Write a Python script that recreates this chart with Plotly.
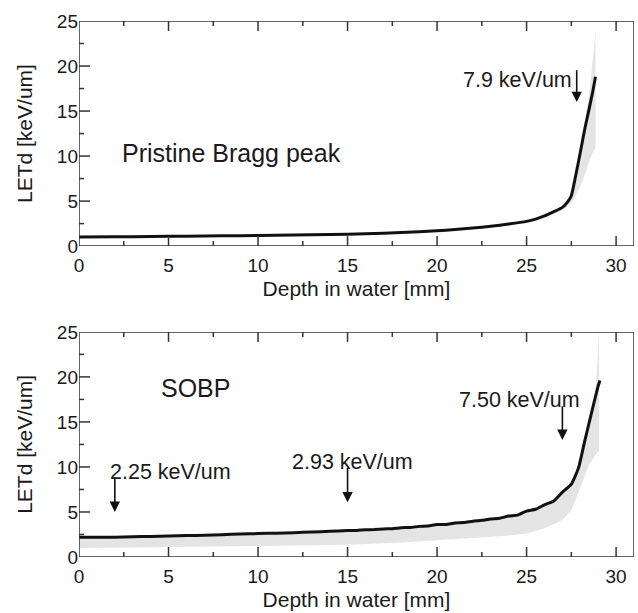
import plotly.graph_objects as go

# ---------------- data ----------------
# Top panel: pristine Bragg peak
depth_top = [0, 2, 4, 6, 8, 10, 12, 14, 16, 18, 20, 21, 22, 23, 24, 25, 25.5, 26,
             26.5, 27, 27.25, 27.5, 27.75, 28, 28.25, 28.5, 28.7, 28.85]
letd_top = [1.0, 1.03, 1.07, 1.1, 1.14, 1.18, 1.23, 1.28, 1.36, 1.5, 1.7, 1.85, 2.0, 2.2,
            2.45, 2.75, 3.0, 3.35, 3.8, 4.3, 4.8, 5.6, 7.9, 10.4, 13.0, 15.3, 17.2, 18.8]
band_top_x = [26, 26.5, 27, 27.5, 28, 28.3, 28.5, 28.6, 28.75, 28.85]
band_top_hi = [3.35, 3.8, 4.3, 5.6, 10.4, 14.5, 17.0, 18.8, 21.4, 23.8]
band_top_lo = [3.2, 3.6, 3.95, 4.8, 6.6, 8.2, 9.5, 10.0, 10.6, 11.0]

# Bottom panel: SOBP
depth_bot = [0, 1, 2, 3, 4, 5, 6, 7, 8, 9, 10, 11, 12, 13, 14, 15, 15.5, 16, 16.5, 17,
             17.5, 18, 18.5, 19, 19.5, 20, 20.5, 21, 21.5, 22, 22.5, 23, 23.5, 24, 24.5,
             25, 25.5, 26, 26.5, 27, 27.5, 27.9, 28.25, 28.65, 29.0, 29.1]
letd_bot = [2.2, 2.18, 2.2, 2.25, 2.28, 2.32, 2.38, 2.42, 2.48, 2.55, 2.6, 2.65, 2.7, 2.78,
            2.85, 2.93, 2.95, 3.02, 3.05, 3.12, 3.15, 3.25, 3.28, 3.4, 3.45, 3.6, 3.62,
            3.78, 3.82, 3.98, 4.08, 4.22, 4.3, 4.55, 4.65, 5.1, 5.3, 5.8, 6.2, 7.2, 8.1,
            9.9, 12.9, 16.2, 19.0, 19.6]
band_bot_x = [0, 2, 5, 8, 10, 12, 15, 18, 20, 22, 24, 25, 26, 27, 27.5, 28, 28.5, 28.75,
              28.9, 29.0, 29.05]
band_bot_hi = [2.1, 2.1, 2.2, 2.4, 2.5, 2.6, 2.85, 3.15, 3.5, 3.85, 4.5, 5.0, 5.7, 7.0,
               8.0, 11.0, 14.5, 17.0, 19.5, 23.0, 25.5]
band_bot_lo = [1.0, 1.02, 1.1, 1.15, 1.2, 1.27, 1.37, 1.6, 1.85, 2.1, 2.4, 2.6, 3.2, 4.1,
               5.2, 7.7, 10.3, 11.0, 11.5, 11.7, 11.8]

x_ticks = [0, 5, 10, 15, 20, 25, 30]
x_minor = [2.5, 7.5, 12.5, 17.5, 22.5, 27.5]
y_ticks = [0, 5, 10, 15, 20, 25]
y_minor = [2.5, 7.5, 12.5, 17.5, 22.5]
x_title = "Depth in water [mm]"
y_title = "LETd [keV/um]"

# labels: (text, x, y, panel)
panel_labels = [("Pristine Bragg peak", 8.5, 10.3, 1), ("SOBP", 6.5, 18.8, 2)]
value_labels = [("7.9 keV/um", 24.5, 18.5, 1), ("2.25 keV/um", 5.1, 9.4, 2),
                ("2.93 keV/um", 15.3, 10.6, 2), ("7.50 keV/um", 24.6, 17.4, 2)]
# arrows: (x, y_start, y_tip, panel)
arrows = [(27.8, 19.7, 16.0, 1), (2.0, 8.95, 5.0, 2), (15.0, 10.07, 6.07, 2),
          (27.0, 16.9, 13.0, 2)]

# ---------------- layout constants ----------------
FONT = "Liberation Sans, Arial, Helvetica, sans-serif"
TXT = "#1a1a1a"
AX = "#333333"
BAND = "#e4e4e4"
X_RANGE = [0, 31]
Y_RANGE = [0, 25]
W, H = 638, 613
M = dict(l=79, r=4, t=21, b=56)
DOM_TOP = [0.580, 1.0]
DOM_BOT = [0.0, 0.42]
MAJOR_LEN = 10   # px
MINOR_LEN = 5    # px

plot_w = W - M["l"] - M["r"]
plot_h = H - M["t"] - M["b"]
px_per_x = plot_w / (X_RANGE[1] - X_RANGE[0])

fig = go.Figure()

panels = [
    ("x", "y", DOM_TOP, band_top_x, band_top_hi, band_top_lo, depth_top, letd_top),
    ("x2", "y2", DOM_BOT, band_bot_x, band_bot_hi, band_bot_lo, depth_bot, letd_bot),
]
for xa, ya, dom, bx, bhi, blo, dx, dy in panels:
    fig.add_trace(go.Scatter(x=bx + bx[::-1], y=bhi + blo[::-1], fill="toself",
                             fillcolor=BAND, line=dict(width=0), mode="lines",
                             hoverinfo="skip", showlegend=False, xaxis=xa, yaxis=ya))
    fig.add_trace(go.Scatter(x=dx, y=dy, mode="lines",
                             line=dict(color="#111111", width=3, shape="spline",
                                       smoothing=0.5),
                             showlegend=False, xaxis=xa, yaxis=ya))

    # frame and inward ticks, placed from the axis ranges and tick arrays
    px_per_y = (dom[1] - dom[0]) * plot_h / (Y_RANGE[1] - Y_RANGE[0])
    fx = [X_RANGE[0], X_RANGE[1], X_RANGE[1], X_RANGE[0], X_RANGE[0]]
    fy = [Y_RANGE[0], Y_RANGE[0], Y_RANGE[1], Y_RANGE[1], Y_RANGE[0]]
    tx, ty = [], []
    for vals, L in [(x_ticks, MAJOR_LEN), (x_minor, MINOR_LEN)]:
        dyl = L / px_per_y
        for v in vals:
            if X_RANGE[0] < v < X_RANGE[1]:
                tx += [v, v, None, v, v, None]
                ty += [Y_RANGE[0], Y_RANGE[0] + dyl, None,
                       Y_RANGE[1], Y_RANGE[1] - dyl, None]
    for vals, L in [(y_ticks, MAJOR_LEN + 1), (y_minor, MINOR_LEN)]:
        dxl = L / px_per_x
        for v in vals:
            if Y_RANGE[0] < v < Y_RANGE[1]:
                tx += [X_RANGE[0], X_RANGE[0] + dxl, None]
                ty += [v, v, None]
    fig.add_trace(go.Scatter(x=fx + [None] + tx, y=fy + [None] + ty, mode="lines",
                             line=dict(color=AX, width=1.5), cliponaxis=False,
                             connectgaps=False, hoverinfo="skip", showlegend=False,
                             xaxis=xa, yaxis=ya))


def xstyle(anchor):
    return dict(anchor=anchor, domain=[0, 1], range=X_RANGE, tickvals=x_ticks,
                ticks="", showline=False, showgrid=False, zeroline=False,
                automargin=False, ticklabelstandoff=6,
                tickfont=dict(family=FONT, size=19, color=TXT),
                title=dict(text=x_title, font=dict(family=FONT, size=21, color=TXT),
                           standoff=6))


def ystyle(anchor, dom):
    return dict(anchor=anchor, domain=dom, range=Y_RANGE, tickvals=y_ticks,
                ticks="", showline=False, showgrid=False, zeroline=False,
                automargin=False,
                tickfont=dict(family=FONT, size=19, color=TXT),
                title=dict(text=y_title, font=dict(family=FONT, size=21, color=TXT),
                           standoff=18))


fig.update_layout(
    width=W, height=H, margin=M,
    plot_bgcolor="white", paper_bgcolor="white",
    font=dict(family=FONT, color=TXT),
    xaxis=xstyle("y"), yaxis=ystyle("x", DOM_TOP),
    xaxis2=xstyle("y2"), yaxis2=ystyle("x2", DOM_BOT),
)

anns = []
for text, x, y, p in panel_labels:
    anns.append(dict(text=text, x=x, y=y, xref="x" if p == 1 else "x2",
                     yref="y" if p == 1 else "y2", showarrow=False,
                     xanchor="center", yanchor="middle",
                     font=dict(family=FONT, size=25, color=TXT)))
for text, x, y, p in value_labels:
    anns.append(dict(text=text, x=x, y=y, xref="x" if p == 1 else "x2",
                     yref="y" if p == 1 else "y2", showarrow=False,
                     xanchor="center", yanchor="middle",
                     font=dict(family=FONT, size=21.5, color=TXT)))
for x, y0, y1, p in arrows:
    xr = "x" if p == 1 else "x2"
    yr = "y" if p == 1 else "y2"
    anns.append(dict(text="", x=x, y=y1, xref=xr, yref=yr, ax=x, ay=y0,
                     axref=xr, ayref=yr, showarrow=True, arrowhead=2,
                     arrowsize=1.3, arrowwidth=1.6, arrowcolor="#111111"))
fig.update_layout(annotations=anns)

fig.write_html("out.html", config={"displayModeBar": False},
               post_script="document.body.style.margin='0';")
